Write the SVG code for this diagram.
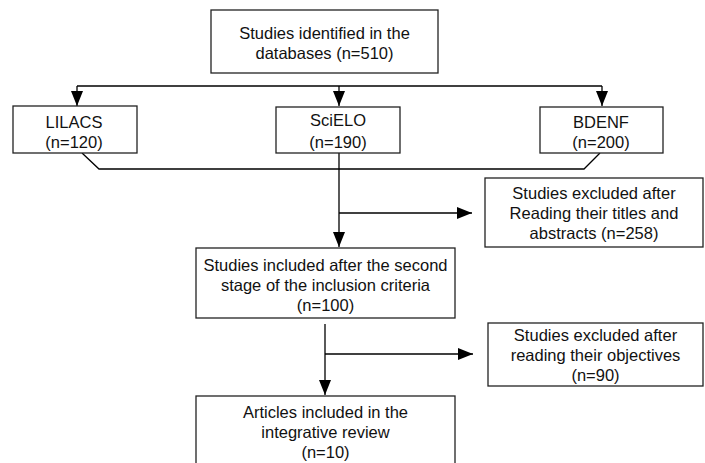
<svg xmlns="http://www.w3.org/2000/svg" width="705" height="463" viewBox="0 0 705 463">
<style>
.box{fill:#fff;stroke:#222;stroke-width:1.3}
.ln{fill:none;stroke:#000;stroke-width:1.3}
text{font-family:"Liberation Sans",Arial,sans-serif;font-size:16.5px;fill:#111;text-anchor:middle}
</style>
<defs>
<marker id="ah" markerUnits="userSpaceOnUse" markerWidth="15" markerHeight="12" refX="15" refY="6" orient="auto">
<path d="M0,0 L15,6 L0,12 z" fill="#000"/>
</marker>
</defs>
<rect width="705" height="463" fill="#fff"/>
<g id="connectors">
<path class="ln" d="M77,86 H602"/>
<path class="ln" d="M77,86 V106" marker-end="url(#ah)"/>
<path class="ln" d="M339,86 V106" marker-end="url(#ah)"/>
<path class="ln" d="M602,86 V106" marker-end="url(#ah)"/>
<path class="ln" d="M82,153 L99,169 H584 L600,153"/>
<path class="ln" d="M339,153 V247" marker-end="url(#ah)"/>
<path class="ln" d="M339,213 H472" marker-end="url(#ah)"/>
<path class="ln" d="M325,324 V395" marker-end="url(#ah)"/>
<path class="ln" d="M325,354 H473" marker-end="url(#ah)"/>
</g>
<g id="n-identified">
<rect class="box" x="211" y="10" width="227" height="63"/>
<text x="324.5" y="39">Studies identified in the</text>
<text x="324.5" y="59">databases (n=510)</text>
</g>
<g id="n-lilacs">
<rect class="box" x="13" y="106" width="124" height="47"/>
<text x="74" y="128">LILACS</text>
<text x="74" y="148">(n=120)</text>
</g>
<g id="n-scielo">
<rect class="box" x="276" y="107" width="124" height="46"/>
<text x="338" y="126">SciELO</text>
<text x="338" y="148">(n=190)</text>
</g>
<g id="n-bdenf">
<rect class="box" x="540" y="107" width="123" height="46"/>
<text x="601" y="128">BDENF</text>
<text x="601" y="148">(n=200)</text>
</g>
<g id="n-excluded1">
<rect class="box" x="485" y="178" width="218" height="69"/>
<text x="594" y="199">Studies excluded after</text>
<text x="594" y="219">Reading their titles and</text>
<text x="594" y="239">abstracts (n=258)</text>
</g>
<g id="n-included2">
<rect class="box" x="196" y="248" width="259" height="70"/>
<text x="325.5" y="271">Studies included after the second</text>
<text x="325.5" y="291">stage of the inclusion criteria</text>
<text x="325.5" y="311">(n=100)</text>
</g>
<g id="n-excluded2">
<rect class="box" x="488" y="323" width="215" height="63"/>
<text x="595.5" y="341">Studies excluded after</text>
<text x="595.5" y="361">reading their objectives</text>
<text x="595.5" y="381">(n=90)</text>
</g>
<g id="n-articles">
<rect class="box" x="196" y="396" width="259" height="80"/>
<text x="325.5" y="418">Articles included in the</text>
<text x="325.5" y="438">integrative review</text>
<text x="325.5" y="458">(n=10)</text>
</g>
</svg>
